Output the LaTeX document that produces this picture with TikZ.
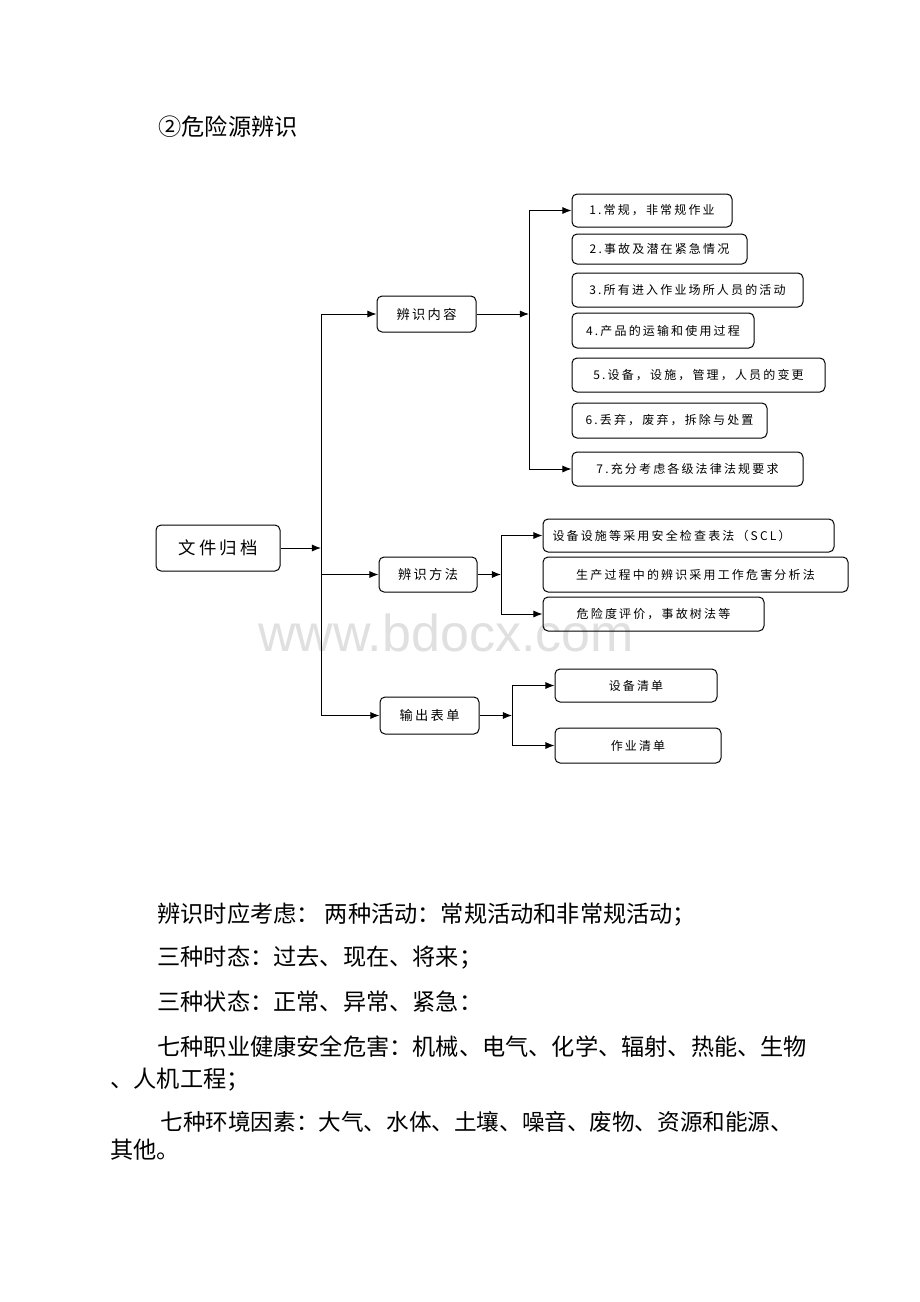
\documentclass[tikz,border=0pt]{standalone}
\usepackage{fontspec}
\usepackage{tikz}
\usetikzlibrary{positioning,shapes,arrows.meta}
\setmainfont{Noto Sans CJK SC}
\newfontfamily\boxfont[LetterSpace=18]{Noto Sans CJK SC}
\newfontfamily\markfont{Liberation Sans}

\begin{document}
\begin{tikzpicture}[x=0.5pt, y=-0.5pt,
	box/.style={draw, rounded corners=2.5pt, line width=0.5pt, inner sep=0pt},
	wh/.style 2 args={minimum width=#1*0.5pt, minimum height=#2*0.5pt},
	rootbox/.style={box, font=\boxfont\fontsize{8.7}{10}\selectfont},
	midbox/.style={box, font=\boxfont\fontsize{6.6}{8}\selectfont},
	leafbox/.style={box, font=\boxfont\fontsize{6}{7}\selectfont},
	line/.style={line width=0.5pt},
	arr/.style={line, -{Latex[length=4.6pt, width=3.6pt]}},
	bodytext/.style={anchor=west, inner sep=0pt, font=\fontsize{11.6}{14}\selectfont}]
	\useasboundingbox (0,0) rectangle (920,1302);
	% watermark
	\node[text=black!12, font=\markfont\fontsize{26}{30}\selectfont] (mark) at (446,633) {www.bdocx.com};
	\node[bodytext] (title) at (158,127) {②危险源辨识};

	\node[rootbox, wh={124}{46}] (root) at (218,548) {文件归档};
	\node[midbox, wh={99}{36}] (content) at (426.5,314) {辨识内容};
	\node[midbox, wh={98}{35}] (method) at (428,574.5) {辨识方法};
	\node[midbox, wh={99}{37}] (output) at (429.5,715.5) {输出表单};

	\node[leafbox, wh={160}{33}] (c1) at (652,210.5) {1.常规，非常规作业};
	\node[leafbox, wh={175}{30}] (c2) at (659.5,249) {2.事故及潜在紧急情况};
	\node[leafbox, wh={231}{34}] (c3) at (687.5,290) {3.所有进入作业场所人员的活动};
	\node[leafbox, wh={182}{35}] (c4) at (663,330.5) {4.产品的运输和使用过程};
	\node[leafbox, wh={253}{34}] (c5) at (698.5,375) {5.设备，设施，管理，人员的变更};
	\node[leafbox, wh={195}{35}] (c6) at (669.5,420.5) {6.丢弃，废弃，拆除与处置};
	\node[leafbox, wh={231}{34}] (c7) at (687.5,469) {7.充分考虑各级法律法规要求};

	\node[leafbox, wh={291}{33}, align=left, text width=136pt] (m1) at (688.5,535.5) {设备设施等采用安全检查表法（SCL）};
	\node[leafbox, wh={305}{35}] (m2) at (695.5,574.5) {生产过程中的辨识采用工作危害分析法};
	\node[leafbox, wh={221}{34}] (m3) at (653.5,614) {危险度评价，事故树法等};

	\node[leafbox, wh={162}{33}] (o1) at (636,685.5) {设备清单};
	\node[leafbox, wh={166}{35}] (o2) at (638,745.5) {作业清单};

	% joints
	\coordinate (trunk) at (321,548);
	\coordinate (cbus) at (529,314);
	\coordinate (mbus) at (501,574.5);
	\coordinate (obus) at (512,715.5);

	\draw[arr] (root.east) -- (trunk);
	\draw[line] (content.west -| trunk) -- (output.west -| trunk);
	\draw[arr] (content.west -| trunk) -- (content.west);
	\draw[arr] (method.west -| trunk) -- (method.west);
	\draw[arr] (output.west -| trunk) -- (output.west);

	\draw[arr] (content.east) -- (cbus);
	\draw[line] (c1.west -| cbus) -- (c7.west -| cbus);
	\draw[arr] (c1.west -| cbus) -- (c1.west);
	\draw[arr] (c7.west -| cbus) -- (c7.west);

	\draw[arr] (method.east) -- (mbus);
	\draw[line] (m1.west -| mbus) -- (m3.west -| mbus);
	\draw[arr] (m1.west -| mbus) -- (m1.west);
	\draw[arr] (m3.west -| mbus) -- (m3.west);

	\draw[arr] (output.east) -- (obus);
	\draw[line] (o1.west -| obus) -- (o2.west -| obus);
	\draw[arr] (o1.west -| obus) -- (o1.west);
	\draw[arr] (o2.west -| obus) -- (o2.west);

	% notes below the chart
	\node[bodytext] (t1) at (157,915) {辨识时应考虑： 两种活动：常规活动和非常规活动；};
	\node[bodytext] (t2) at (157,958) {三种时态：过去、现在、将来；};
	\node[bodytext] (t3) at (157,1002) {三种状态：正常、异常、紧急：};
	\node[bodytext] (t4) at (157,1047) {七种职业健康安全危害：机械、电气、化学、辐射、热能、生物};
	\node[bodytext] (t4b) at (110,1080) {、人机工程；};
	\node[bodytext, font=\fontsize{11.3}{14}\selectfont] (t5) at (160,1122) {七种环境因素：大气、水体、土壤、噪音、废物、资源和能源、};
	\node[bodytext] (t5b) at (110,1150) {其他。};
\end{tikzpicture}
\end{document}
